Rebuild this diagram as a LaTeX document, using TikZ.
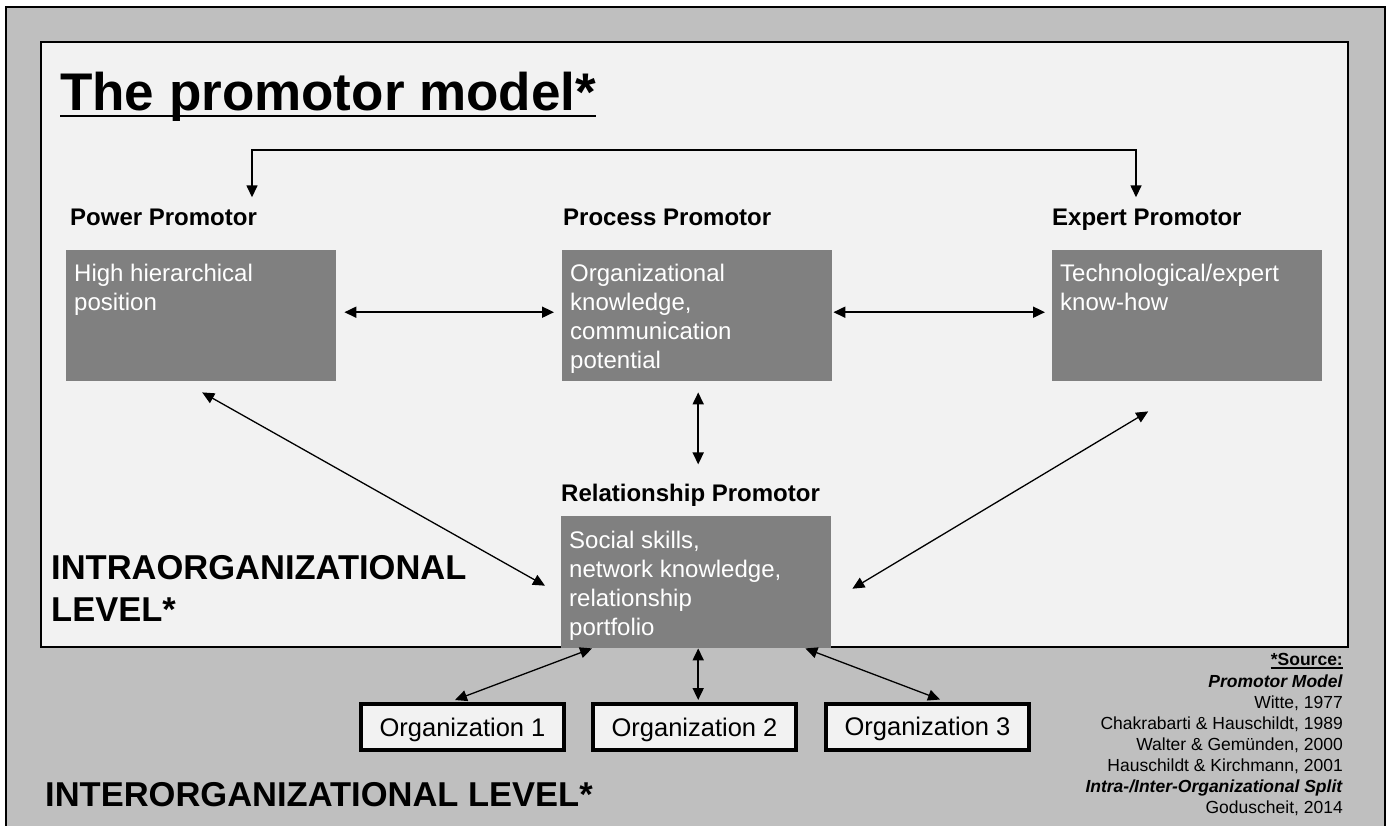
\documentclass[tikz,border=0pt]{standalone}
\usepackage{fontspec}
\setmainfont{Liberation Sans}
\usetikzlibrary{arrows.meta,calc}
\definecolor{framegrey}{HTML}{BFBFBF}
\definecolor{panelgrey}{HTML}{F2F2F2}
\definecolor{boxgrey}{HTML}{808080}
\begin{document}
\begin{tikzpicture}[x=1pt,y=-1pt,
  promobox/.style={rectangle, fill=boxgrey, draw=none, minimum width=270pt,
    minimum height=131pt, inner sep=0pt, anchor=north west},
  boxtext/.style={anchor=north west, inner sep=0pt, align=left, text=white,
    font=\fontsize{24}{29}\selectfont},
  head/.style={anchor=base west, inner sep=0pt, font=\bfseries\fontsize{24}{29}\selectfont},
  orgbox/.style={rectangle, draw=black, line width=4pt, fill=panelgrey,
    minimum width=203pt, minimum height=46pt, inner sep=0pt,
    font=\fontsize{25.5}{30}\selectfont, text height=18.5pt, text depth=0pt},
  level/.style={inner sep=0pt, font=\bfseries\fontsize{34.5}{42}\selectfont, align=left},
  link/.style={line width=1.3pt,
    {Triangle[length=12pt,width=11pt]}-{Triangle[length=12pt,width=11pt]}},
  thicklink/.style={link, line width=1.8pt}
]
\useasboundingbox (0,0) rectangle (1387,825);
\clip (0,0) rectangle (1387,825);
\fill[white] (0,0) rectangle (1387,825);

% outer frame (interorganizational level) and inner panel (intraorganizational level)
\draw[line width=1.5pt, fill=framegrey] (6,7) rectangle (1385,845);
\draw[line width=1.5pt, fill=panelgrey] (41,42) rectangle (1348,647);

% title
\node[anchor=base west, inner sep=0pt, font=\bfseries\fontsize{53}{60}\selectfont]
  (title) at (60,110) {The promotor model*};
\draw[line width=2.4pt] ($(title.base west)+(0,6)$) -- ($(title.base east)+(0,6)$);

% promotor boxes
\node[promobox] (power) at (66,250) {};
\node[promobox] (process) at (562,250) {};
\node[promobox] (expert) at (1052,250) {};
\node[promobox, minimum height=132pt] (rel) at (561,516) {};

% promotor headings
\node[head] (powerhead) at (70,225) {Power Promotor};
\node[head] (processhead) at (563,225) {Process Promotor};
\node[head] (experthead) at (1052,225) {Expert Promotor};
\node[head] (relhead) at (561,501) {Relationship Promotor};

% box contents
\node[boxtext] (powertxt) at ($(power.north west)+(8,13.5)$) {High hierarchical\\position};
\node[boxtext] (processtxt) at ($(process.north west)+(8,13.5)$) {Organizational\\knowledge,\\communication\\potential};
\node[boxtext] (experttxt) at ($(expert.north west)+(8,13.5)$) {Technological/expert\\know-how};
\node[boxtext] (reltxt) at ($(rel.north west)+(8,15)$) {Social skills,\\network knowledge,\\relationship\\portfolio};

% level labels
\node[level, anchor=north west] (intra) at (51,555) {INTRAORGANIZATIONAL\\LEVEL*};
\node[level, anchor=base west] (inter) at (45,806) {INTERORGANIZATIONAL LEVEL*};

% partner organizations
\node[orgbox] (org1) at (462.5,727) {Organization 1};
\node[orgbox] (org2) at (694.5,727) {Organization 2};
\node[orgbox] (org3) at (927.5,726.5) {Organization 3};

% sources
\node[anchor=base east, inner sep=0pt, font=\bfseries\fontsize{17.5}{21}\selectfont]
  (srchead) at (1343,665) {*Source:};
\draw[line width=1.3pt] ($(srchead.base west)+(0,3)$) -- ($(srchead.base east)+(0,3)$);
\node[anchor=north east, inner sep=0pt, align=right, font=\fontsize{17.5}{21}\selectfont]
  (srclist) at (1343,674.5) {\textbf{\textit{Promotor Model}}\\Witte, 1977\\Chakrabarti \& Hauschildt, 1989\\Walter \& Gemünden, 2000\\Hauschildt \& Kirchmann, 2001\\\textbf{\textit{Intra-/Inter-Organizational Split}}\\Goduscheit, 2014};

% connectors
\coordinate (topL) at (252,150);
\coordinate (topR) at (1136,150);
\draw[link, line width=1.5pt] ($(powerhead.north -| topL)+(0,-11)$) -- (topL) -- (topR)
  -- ($(experthead.north -| topR)+(0,-11)$);
\draw[thicklink] ([xshift=8pt,yshift=3.5pt]power.east) -- ([xshift=-8pt,yshift=3.5pt]process.west);
\draw[thicklink] ([xshift=1pt,yshift=3.5pt]process.east) -- ([xshift=-7pt,yshift=3.5pt]expert.west);
\draw[thicklink] ($(process.south)+(1,11)$) -- ($(process.south |- relhead.north)+(1,-19)$);
\draw[link] ($(power.south)+(1,11)$) -- ($(rel.west)+(-16,3.5)$);
\draw[link] ($(expert.south)+(-39,30)$) -- ($(rel.east)+(21,6.5)$);
\draw[link] ($(rel.south west)+(31,0)$) -- ($(org1.north)+(-7.5,-2)$);
\draw[thicklink] ($(rel.south)+(2,0)$) -- ($(org2.north -| rel.south)+(2,-2)$);
\draw[link] ($(rel.south east)+(-26,0)$) -- ($(org3.north)+(12.5,-2)$);
\end{tikzpicture}
\end{document}
